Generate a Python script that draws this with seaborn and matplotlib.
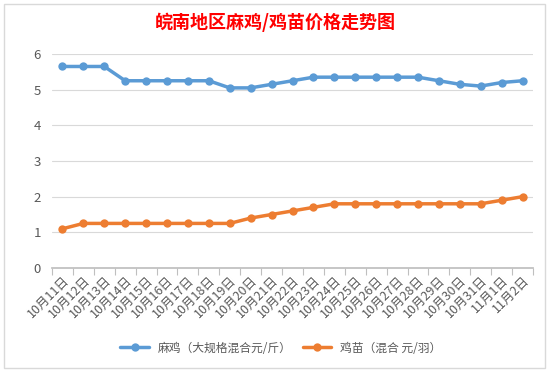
import matplotlib
matplotlib.use("Agg")
import matplotlib.pyplot as plt
import pandas as pd
import seaborn as sns
from matplotlib.patches import Rectangle
from matplotlib.ticker import FixedLocator, NullFormatter

dates = ["10月11日", "10月12日", "10月13日", "10月14日", "10月15日", "10月16日",
         "10月17日", "10月18日", "10月19日", "10月20日", "10月21日", "10月22日",
         "10月23日", "10月24日", "10月25日", "10月26日", "10月27日", "10月28日",
         "10月29日", "10月30日", "10月31日", "11月1日", "11月2日"]
mazhi = [5.65, 5.65, 5.65, 5.25, 5.25, 5.25, 5.25, 5.25, 5.05, 5.05, 5.15, 5.25,
         5.35, 5.35, 5.35, 5.35, 5.35, 5.35, 5.25, 5.15, 5.1, 5.2, 5.25]
jimiao = [1.1, 1.25, 1.25, 1.25, 1.25, 1.25, 1.25, 1.25, 1.25, 1.4, 1.5, 1.6,
          1.7, 1.8, 1.8, 1.8, 1.8, 1.8, 1.8, 1.8, 1.8, 1.9, 2.0]
series_names = ["麻鸡（大规格混合元/斤）", "鸡苗（混合 元/羽）"]
yticks = [0, 1, 2, 3, 4, 5, 6]

df = pd.DataFrame({
    "idx": list(range(len(dates))) * 2,
    "price": mazhi + jimiao,
    "series": [series_names[0]] * len(dates) + [series_names[1]] * len(dates),
})

sns.set_theme(style="white")
plt.rcParams["font.family"] = ["Noto Sans CJK SC", "DejaVu Sans"]

fig = plt.figure(figsize=(5.5, 3.71), dpi=100)
ax = fig.add_axes([52 / 550, 1 - 268 / 371, (533 - 52) / 550, (268 - 54) / 371])

# 外框
fig.patches.append(Rectangle((4 / 550, 3 / 371), 541 / 550, 364 / 371,
                             transform=fig.transFigure, fill=False,
                             edgecolor="#d9d9d9", linewidth=1))

sns.lineplot(data=df, x="idx", y="price", hue="series",
             palette=["#5B9BD5", "#ED7D31"], marker="o", markersize=6,
             markeredgewidth=0, linewidth=2.5, ax=ax, legend=True)

ax.set_xlim(-0.5, len(dates) - 0.5)
ax.set_ylim(0, 6)
ax.set_yticks(yticks)
ax.set_xticks(range(len(dates)))
ax.set_xticklabels(dates, rotation=45, ha="right", rotation_mode="anchor",
                   fontsize=9, color="#595959")
ax.xaxis.set_minor_locator(FixedLocator([i - 0.5 for i in range(len(dates) + 1)]))
ax.xaxis.set_minor_formatter(NullFormatter())
ax.tick_params(axis="x", which="major", length=0, pad=4)
ax.tick_params(axis="x", which="minor", length=5, width=0.8, color="#bfbfbf", bottom=True)
ax.tick_params(axis="y", length=0, labelsize=9.5, labelcolor="#595959", pad=8)
ax.grid(axis="y", color="#d9d9d9", linewidth=0.8)
for s in ["left", "right", "top"]:
    ax.spines[s].set_visible(False)
ax.spines["bottom"].set_color("#bfbfbf")
ax.set_xlabel("")
ax.set_ylabel("")

fig.suptitle("皖南地区麻鸡/鸡苗价格走势图", x=0.5, y=1 - 13 / 371,
             fontsize=13, fontweight="bold", color="#FF0000", va="top")

ax.legend(loc="center", ncol=2, frameon=False,
          fontsize=8.5, handlelength=2.4, columnspacing=0.9, labelcolor="#595959")
ax.get_legend().set_bbox_to_anchor((281 / 550, 1 - 348 / 371), transform=fig.transFigure)

fig.savefig("out.png", dpi=100)
